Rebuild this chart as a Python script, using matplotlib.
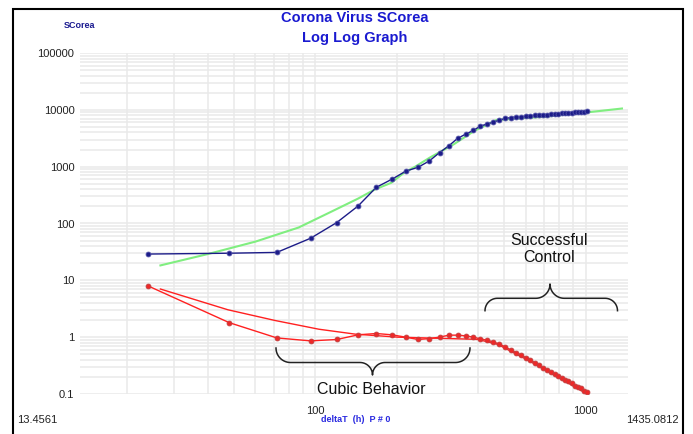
import numpy as np
import matplotlib
matplotlib.use("Agg")
import matplotlib.pyplot as plt
from matplotlib.patches import Rectangle
from matplotlib.lines import Line2D

plt.rcParams['font.family'] = ['Liberation Sans', 'DejaVu Sans']

# ---------------- data ----------------
hours = [24, 48, 72, 96, 120, 144, 168, 192, 216, 240, 264, 288, 312, 336,
         360, 384, 408, 432, 456, 480, 504, 528, 552, 576, 600, 624, 648, 672,
         696, 720, 744, 768, 792, 816, 840, 864, 888, 912, 936, 960, 984, 1008]

cases = [29, 30, 31, 55, 104, 204, 433, 602, 833, 977, 1261, 1766, 2337, 3150,
         3736, 4335, 5186, 5621, 6088, 6593, 7041, 7313, 7478, 7513, 7755, 7869,
         7979, 8086, 8162, 8236, 8320, 8413, 8565, 8652, 8799, 8897, 8961, 9037,
         9137, 9241, 9332, 9478]

ratio = [8.0, 1.8, 0.97, 0.86, 0.91, 1.10, 1.16, 1.10, 1.0, 0.91, 0.945, 1.0,
         1.085, 1.085, 1.054, 1.0, 0.933, 0.885, 0.82, 0.755, 0.674, 0.597,
         0.537, 0.489, 0.437, 0.398, 0.358, 0.318, 0.287, 0.264, 0.241, 0.224,
         0.206, 0.191, 0.178, 0.166, 0.154, 0.141, 0.134, 0.125, 0.115, 0.108]

fit_cases_x = [26.7, 40, 60, 86.7, 115, 144, 166, 191, 213, 234, 265, 325, 387,
               468, 717, 1003, 1363]
fit_cases_y = [18.3, 29, 48, 85, 163, 275, 397, 521, 783, 1000, 1442, 2473, 4246,
               6637, 7620, 8974, 10550]

fit_ratio_x = [26.7, 47.5, 71.1, 103, 140.5, 202, 376, 400, 473, 609, 787, 1046]
fit_ratio_y = [7.03, 3.03, 1.96, 1.38, 1.13, 1.0, 0.922, 0.91, 0.746, 0.398, 0.1995, 0.092]

xmin, xmax = 13.4561, 1435.0812
ymin, ymax = 0.1, 100000
xticks = [100, 1000]
yticks = [0.1, 1, 10, 100, 1000, 10000, 100000]
ytick_labels = ['0.1', '1', '10', '100', '1000', '10000', '100000']

# ---------------- figure ----------------
W, H = 693, 434
fig = plt.figure(figsize=(W / 100, H / 100), dpi=100)

def fx(px):
    return px / W

def fy(py):
    return 1 - py / H

L, R, T, B = 80, 628, 53, 394
ax = fig.add_axes([fx(L), fy(B), fx(R) - fx(L), fy(T) - fy(B)])
ax.set_xscale('log')
ax.set_yscale('log')
ax.set_xlim(xmin, xmax)
ax.set_ylim(ymin, ymax)

grid_color = '#e9e9e9'
ax.grid(True, which='both', color=grid_color, linewidth=1.1)
ax.set_axisbelow(True)
for s in ax.spines.values():
    s.set_visible(False)

ax.set_xticks(xticks)
ax.set_xticklabels([str(v) for v in xticks])
ax.set_yticks(yticks)
ax.set_yticklabels(ytick_labels)
ax.tick_params(which='both', length=0, labelsize=8, colors='#222222')
ax.tick_params(axis='x', pad=9)
ax.tick_params(axis='y', pad=4)
ax.xaxis.set_minor_formatter(matplotlib.ticker.NullFormatter())
ax.yaxis.set_minor_formatter(matplotlib.ticker.NullFormatter())

# series
ax.plot(fit_cases_x, fit_cases_y, color='#80ee80', lw=1.5, zorder=3)
ax.plot(hours, cases, color='#1c1c88', lw=1.0, marker='o', markersize=3.5,
        markerfacecolor='#1c1c88', markeredgecolor='#5050a8', markeredgewidth=0.6, zorder=4)
ax.plot(fit_ratio_x, fit_ratio_y, color='#ff2020', lw=1.0, zorder=3)
ax.plot(hours, ratio, color='#ff2020', lw=1.0, marker='o', markersize=3.5,
        markerfacecolor='#ee2828', markeredgecolor='#c04040', markeredgewidth=0.6, zorder=4)

# ---------------- braces ----------------
def brace(x0, x1, yend, ymid, ytip, xtip):
    pts = []
    r = abs(ymid - yend)
    r2 = abs(ytip - ymid)
    sgn = 1 if ymid > yend else -1
    th = np.linspace(0, np.pi / 2, 20)
    for t in th:
        pts.append((x0 + r * (1 - np.cos(t)), yend + sgn * r * np.sin(t)))
    for t in th:
        pts.append((xtip - r2 + r2 * np.sin(t), ymid + sgn * r2 * (1 - np.cos(t))))
    for t in th[::-1]:
        pts.append((xtip + r2 - r2 * np.sin(t), ymid + sgn * r2 * (1 - np.cos(t))))
    for t in th[::-1]:
        pts.append((x1 - r * (1 - np.cos(t)), yend + sgn * r * np.sin(t)))
    xs = [fx(p[0]) for p in pts]
    ys = [fy(p[1]) for p in pts]
    fig.add_artist(Line2D(xs, ys, transform=fig.transFigure, color='#222222', lw=1.1))

brace(276, 470, 348, 362.5, 375, 372.5)
brace(485, 617.5, 310.7, 298.3, 284, 550)

fig.text(fx(371), fy(389), 'Cubic Behavior', ha='center', va='center',
         fontsize=11.5, color='#111111')
fig.text(fx(549), fy(249), 'Successful\nControl', ha='center', va='center',
         fontsize=11.5, color='#111111', linespacing=1.2)

# ---------------- titles / labels ----------------
fig.text(fx(355), fy(18), 'Corona Virus SCorea', ha='center', va='center',
         fontsize=10.5, fontweight='bold', color='#1a1ad0')
fig.text(fx(355), fy(38), 'Log Log Graph', ha='center', va='center',
         fontsize=10.5, fontweight='bold', color='#1a1ad0')
fig.text(fx(80), fy(26), 'SCorea', ha='center', va='center',
         fontsize=6.5, fontweight='bold', color='#1a1a90')
fig.text(fx(356), fy(420), 'deltaT  (h)  P # 0', ha='center', va='center',
         fontsize=6.5, fontweight='bold', color='#2a2ae0')
fig.text(fx(17), fy(420), f'{xmin}', ha='left', va='center', fontsize=8, color='#222222')
fig.text(fx(679), fy(420), f'{xmax}', ha='right', va='center', fontsize=8, color='#222222')

# outer frame
fig.add_artist(Rectangle((fx(13), fy(440)), fx(683) - fx(13), fy(9) - fy(440),
                         transform=fig.transFigure, fill=False, edgecolor='black', lw=1.5))

fig.savefig('out.png', dpi=100)
